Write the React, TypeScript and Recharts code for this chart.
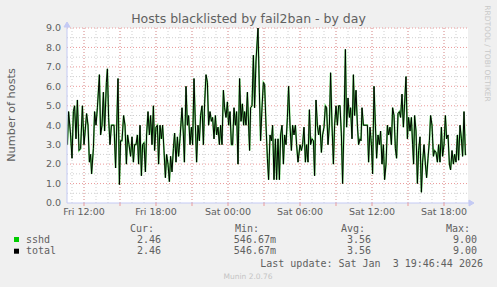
import React from 'react';
import { ComposedChart, Line, XAxis, YAxis, ReferenceLine, ReferenceArea, ReferenceDot } from 'recharts';

// time in minutes since Fri 00:00
const minutes = [
  637, 643, 653, 660, 667, 673, 680, 687, 695, 703, 712, 720, 733, 740, 747, 753, 758, 767, 773, 780,
  787, 797, 803, 810, 817, 823, 832, 837, 843, 850, 857, 870, 878, 883, 890, 897, 903, 910, 918, 925,
  932, 938, 945, 953, 960, 967, 973, 980, 987, 993, 1000, 1007, 1013, 1020, 1027, 1033, 1040, 1047, 1053, 1060,
  1067, 1073, 1080, 1087, 1093, 1100, 1107, 1113, 1120, 1127, 1133, 1140, 1147, 1153, 1160, 1167, 1173, 1180, 1187, 1193,
  1200, 1210, 1217, 1222, 1230, 1237, 1243, 1250, 1257, 1263, 1270, 1277, 1283, 1290, 1297, 1303, 1310, 1317, 1323, 1330,
  1337, 1343, 1350, 1357, 1363, 1370, 1377, 1383, 1390, 1397, 1403, 1410, 1417, 1423, 1430, 1437, 1443, 1450, 1457, 1463,
  1470, 1477, 1483, 1490, 1498, 1505, 1512, 1518, 1523, 1530, 1537, 1543, 1548, 1553, 1560, 1567, 1573, 1580, 1590, 1597,
  1603, 1610, 1617, 1623, 1630, 1637, 1643, 1650, 1657, 1663, 1670, 1677, 1683, 1690, 1697, 1703, 1710, 1717, 1723, 1730,
  1737, 1743, 1750, 1757, 1763, 1770, 1777, 1783, 1790, 1800, 1807, 1813, 1820, 1827, 1833, 1840, 1847, 1853, 1860, 1867,
  1873, 1880, 1887, 1893, 1900, 1907, 1913, 1920, 1927, 1933, 1940, 1947, 1953, 1960, 1967, 1973, 1980, 1987, 1993, 2000,
  2007, 2013, 2020, 2027, 2033, 2040, 2047, 2053, 2060, 2067, 2073, 2080, 2087, 2093, 2100, 2105, 2110, 2117, 2137, 2143,
  2150, 2157, 2163, 2170, 2177, 2183, 2190, 2197, 2203, 2210, 2217, 2223, 2230, 2237, 2243, 2250, 2257, 2263, 2270, 2277,
  2283, 2290, 2297, 2303, 2310, 2317, 2323, 2330, 2337, 2343, 2350, 2357, 2363, 2368, 2373, 2380, 2387, 2393, 2400, 2407,
  2413, 2420, 2427, 2433, 2440, 2447, 2453, 2460, 2467, 2473, 2480, 2487, 2493, 2500, 2507, 2513, 2520, 2527, 2533, 2540,
  2547, 2553, 2560, 2567, 2573, 2580, 2587, 2593, 2600, 2607, 2613, 2620, 2627,
];

const sshdValues = [
  3.0, 4.7, 3.5, 2.3, 4.7, 5.0, 3.3, 5.3, 2.7, 2.8, 5.0, 3.0, 4.6, 4.0, 2.1, 2.5, 1.5, 2.8, 4.7, 4.0,
  4.9, 6.6, 3.5, 4.0, 5.7, 3.7, 6.2, 6.9, 4.4, 3.0, 4.0, 4.0, 1.8, 3.7, 6.4, 0.95, 3.2, 3.2, 4.5, 4.0,
  2.0, 3.5, 3.0, 2.4, 3.4, 2.1, 3.0, 3.0, 3.5, 2.0, 4.0, 1.4, 3.0, 3.1, 1.6, 3.5, 4.7, 3.5, 4.5, 3.0,
  5.0, 2.7, 3.9, 4.0, 2.0, 4.0, 3.3, 4.0, 2.7, 1.3, 2.5, 2.0, 1.1, 2.4, 1.6, 2.8, 3.6, 2.1, 3.4, 2.4,
  3.3, 4.9, 3.5, 2.1, 6.0, 4.0, 4.5, 3.0, 3.9, 3.0, 6.4, 4.0, 2.1, 4.0, 3.2, 4.5, 5.0, 3.0, 5.1, 6.6,
  6.2, 4.0, 4.7, 4.2, 4.4, 3.3, 4.5, 3.5, 3.9, 3.0, 4.0, 3.0, 5.8, 4.9, 4.4, 5.2, 4.0, 4.7, 3.0, 3.0,
  4.9, 4.0, 4.7, 2.0, 6.4, 4.2, 5.1, 4.0, 4.7, 4.0, 5.7, 4.0, 2.7, 4.9, 5.0, 7.6, 4.9, 7.3, 9.0, 5.7,
  3.2, 4.9, 6.2, 6.1, 4.0, 2.3, 1.2, 3.5, 3.2, 4.0, 1.2, 3.3, 1.2, 3.3, 1.2, 3.5, 4.0, 2.0, 3.5, 3.0,
  4.4, 6.0, 4.0, 2.7, 4.0, 3.5, 4.0, 3.0, 2.1, 3.0, 2.7, 3.0, 3.9, 2.1, 3.0, 2.1, 4.8, 3.0, 3.3, 3.2,
  1.4, 5.3, 4.0, 3.5, 4.0, 2.6, 3.5, 3.9, 5.0, 4.9, 3.0, 4.0, 6.7, 4.0, 2.0, 4.0, 5.0, 4.0, 5.0, 5.0,
  3.5, 1.0, 4.0, 7.9, 3.9, 5.4, 4.4, 4.9, 3.3, 6.6, 4.5, 5.8, 4.0, 3.0, 3.3, 3.2, 4.9, 4.0, 4.0, 2.1,
  3.9, 3.0, 1.5, 6.0, 4.0, 2.3, 3.5, 3.0, 3.7, 2.0, 3.0, 1.2, 2.0, 4.0, 3.5, 3.9, 3.0, 4.9, 4.5, 2.8,
  2.3, 4.6, 4.7, 4.4, 5.6, 3.9, 5.1, 6.5, 3.3, 4.4, 3.7, 4.4, 3.0, 2.0, 4.5, 3.7, 1.0, 2.7, 3.4, 0.55,
  2.1, 3.0, 2.0, 1.3, 2.3, 3.2, 4.5, 4.0, 2.4, 2.7, 2.6, 2.1, 3.0, 2.1, 3.9, 2.4, 3.0, 4.5, 3.3, 3.5,
  2.0, 1.7, 2.7, 2.0, 2.5, 2.1, 3.5, 2.2, 4.0, 3.3, 2.4, 4.7, 2.46,
];

// only one jail, so the total equals sshd
const totalValues = sshdValues;

const xDomain = [635, 2640];
const majorX = [720, 900, 1080, 1260, 1440, 1620, 1800, 1980, 2160, 2340, 2520];
const minorX = [660, 720, 780, 840, 900, 960, 1020, 1080, 1140, 1200, 1260, 1320, 1380, 1440, 1500, 1560, 1620, 1680, 1740, 1800, 1860, 1920, 1980, 2040, 2100, 2160, 2220, 2280, 2340, 2400, 2460, 2520, 2580];
const xLabels: Record<number, string> = {
  720: 'Fri 12:00', 1080: 'Fri 18:00', 1440: 'Sat 00:00', 1800: 'Sat 06:00', 2160: 'Sat 12:00', 2520: 'Sat 18:00',
};
const yTicks = [0, 1, 2, 3, 4, 5, 6, 7, 8, 9];
const yMinor = [0.5, 1.5, 2.5, 3.5, 4.5, 5.5, 6.5, 7.5, 8.5];

const legendHeaders = ['Cur:', 'Min:', 'Avg:', 'Max:'];
const legendSeries = [
  { name: 'sshd', color: '#00cc00', values: ['2.46', '546.67m', '3.56', '9.00'] },
  { name: 'total', color: '#000000', values: ['2.46', '546.67m', '3.56', '9.00'] },
];
const title = 'Hosts blacklisted by fail2ban - by day';
const yLabel = 'Number of hosts';
const lastUpdate = 'Last update: Sat Jan  3 19:46:44 2026';
const footer = 'Munin 2.0.76';
const sideText = 'RRDTOOL / TOBI OETIKER';

const data = minutes.map((t, i) => ({ t, sshd: sshdValues[i], total: totalValues[i] }));

const AXIS = '#c4caf4';
const MAJOR = '#eb9a9a';
const MINOR = '#cfcfcf';
const TEXT = '#606060';
const SANS = 'DejaVu Sans';
const MONO = 'DejaVu Sans Mono';

const headerRight = [154, 259, 365, 470];
const valueRight = [161, 276, 371, 477];

const RightArrow = (p: any) => (
  <path d={`M${p.cx} ${p.cy} L${p.cx + 2} ${p.cy} M${p.cx + 1} ${p.cy - 3} L${p.cx + 6} ${p.cy} L${p.cx + 1} ${p.cy + 3} Z`} stroke={AXIS} fill={AXIS} strokeWidth={1} />
);
const UpArrow = (p: any) => (
  <path d={`M${p.cx} ${p.cy} L${p.cx} ${p.cy - 2} M${p.cx - 3} ${p.cy - 1} L${p.cx} ${p.cy - 6} L${p.cx + 3} ${p.cy - 1} Z`} stroke={AXIS} fill={AXIS} strokeWidth={1} />
);

export default function App() {
  return (
    <div style={{ position: 'fixed', left: 0, top: 0, width: 497, height: 287, background: '#f0f0f0' }}>
      <ComposedChart width={497} height={287} data={data} margin={{ top: 28, right: 29, bottom: 64, left: 7 }}>
        <XAxis
          dataKey="t"
          type="number"
          domain={xDomain}
          ticks={majorX}
          interval={0}
          allowDataOverflow
          height={20}
          tickSize={3}
          tickMargin={2}
          tickFormatter={(v: number) => xLabels[v] || ''}
          tick={{ fill: TEXT, fontSize: 9.5, fontFamily: SANS }}
          tickLine={{ stroke: MAJOR }}
          axisLine={{ stroke: AXIS }}
        />
        <YAxis
          type="number"
          domain={[0, 9]}
          ticks={yTicks}
          interval={0}
          width={60}
          tickSize={4}
          tickMargin={2}
          tickLine={false}
          tickFormatter={(v: number) => v.toFixed(1)}
          tick={{ fill: TEXT, fontSize: 9.5, fontFamily: SANS }}
          axisLine={{ stroke: AXIS }}
        />
        <ReferenceArea x1={xDomain[0]} x2={xDomain[1]} y1={0} y2={9} fill="#ffffff" fillOpacity={1} stroke="none" />
        {yMinor.map((v) => (
          <ReferenceLine key={'hm' + v} y={v} stroke={MINOR} strokeDasharray="1 2" />
        ))}
        {minorX.map((v) => (
          <ReferenceLine key={'vm' + v} x={v} stroke={MINOR} strokeDasharray="1 2" />
        ))}
        {yTicks.filter((v) => v > 0).map((v) => (
          <ReferenceLine key={'hM' + v} y={v} stroke={MAJOR} strokeDasharray="1 2" />
        ))}
        {majorX.map((v) => (
          <ReferenceLine key={'vM' + v} x={v} stroke={MAJOR} strokeDasharray="1 2" />
        ))}
        <Line type="linear" dataKey="sshd" stroke="#00cc00" strokeWidth={1.7} strokeOpacity={0.6} dot={false} activeDot={false} isAnimationActive={false} />
        <Line type="linear" dataKey="total" stroke="#000000" strokeWidth={1} dot={false} activeDot={false} isAnimationActive={false} />
        <ReferenceDot x={xDomain[1]} y={0} r={0} ifOverflow="visible" shape={RightArrow} />
        <ReferenceDot x={xDomain[0]} y={9} r={0} ifOverflow="visible" shape={UpArrow} />
      </ComposedChart>
      <svg width={497} height={287} style={{ position: 'absolute', left: 0, top: 0, pointerEvents: 'none' }}>
        <text x={248.5} y={23} textAnchor="middle" fontFamily={SANS} fontSize={12.5} fill={TEXT}>{title}</text>
        <text x={15} y={115} textAnchor="middle" fontFamily={SANS} fontSize={11.3} fill={TEXT} transform="rotate(-90 15 115)">{yLabel}</text>
        <text x={485} y={53.5} textAnchor="middle" fontFamily={SANS} fontSize={7.5} fill="#c8c8c8" transform="rotate(90 485 53.5)">{sideText}</text>
        {legendHeaders.map((h, i) => (
          <text key={h} x={headerRight[i]} y={231.5} textAnchor="end" fontFamily={MONO} fontSize={10} fill={TEXT}>{h}</text>
        ))}
        {legendSeries.map((s, r) => (
          <g key={s.name}>
            <rect x={14} y={237 + r * 11.7} width={5} height={5} fill={s.color} />
            <text x={26} y={242.5 + r * 11.7} fontFamily={MONO} fontSize={10} fill={TEXT}>{s.name}</text>
            {s.values.map((v, i) => (
              <text key={i} x={valueRight[i]} y={242.5 + r * 11.7} textAnchor="end" fontFamily={MONO} fontSize={10} fill={TEXT}>{v}</text>
            ))}
          </g>
        ))}
        <text x={483} y={266.5} textAnchor="end" fontFamily={MONO} fontSize={10} fill={TEXT} style={{ whiteSpace: 'pre' }}>{lastUpdate}</text>
        <text x={248} y={278.5} textAnchor="middle" fontFamily={SANS} fontSize={7.5} fill="#c4c4c4">{footer}</text>
      </svg>
    </div>
  );
}
